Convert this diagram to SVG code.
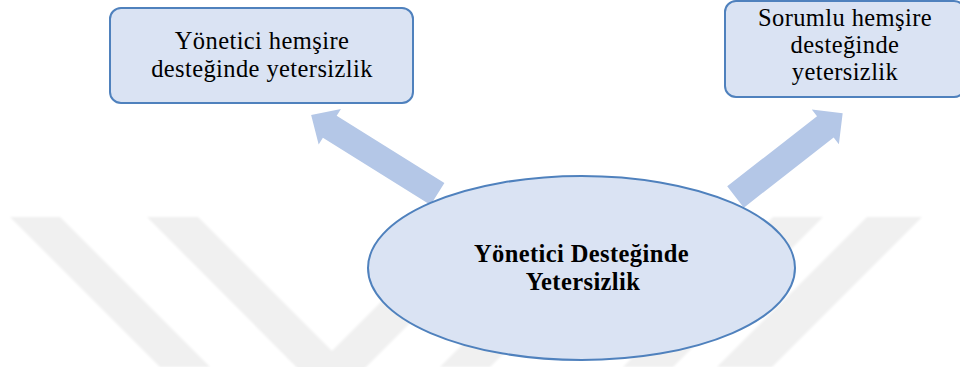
<svg xmlns="http://www.w3.org/2000/svg" width="960" height="367" viewBox="0 0 960 367">
  <defs>
    <filter id="soft" x="-5%" y="-5%" width="110%" height="110%">
      <feGaussianBlur stdDeviation="1.2"/>
    </filter>
    <style>
      .wm { fill: #f0f0f0; }
      .box { fill: #dae3f3; stroke: #4f81bd; stroke-width: 2; }
      .arrow { fill: #b4c7e7; stroke: none; }
      .lbl { font-family: "Liberation Serif", "Times New Roman", serif; font-size: 24.5px; letter-spacing: 0.4px; fill: #000; text-anchor: middle; }
      .bold { font-weight: bold; }
    </style>
  </defs>

  <rect width="960" height="367" fill="#ffffff"/>

  <!-- faint background chevrons -->
  <g id="background-stripes" class="wm" filter="url(#soft)">
    <polygon points="10,217 60,217 210,367 160,367"/>
    <polygon points="147,217 198,217 332,351 466,217 516,217 331,402"/>
    <polygon points="440,367 490,367 640,217 590,217"/>
    <polygon points="773,217 823,217 673,367 623,367"/>
    <polygon points="867,217 922,217 772,367 717,367"/>
  </g>

  <!-- block arrows from the centre ellipse to the two boxes -->
  <g id="connectors">
    <polygon class="arrow" transform="translate(437.5,194) rotate(212)"
             points="0,-13 127,-13 127,-21 149,0 127,21 127,13 0,13"/>
    <polygon class="arrow" transform="translate(735.5,197) rotate(-38)"
             points="0,-13.5 114,-13.5 114,-22 136,0 114,22 114,13.5 0,13.5"/>
  </g>

  <g id="node-left">
    <rect class="box" x="110" y="8" width="303" height="95" rx="11" ry="11"/>
    <text class="lbl" x="262" y="49.4">Yönetici hemşire<tspan x="262" dy="27.2">desteğinde yetersizlik</tspan></text>
  </g>

  <g id="node-right">
    <rect class="box" x="725" y="1" width="240" height="96" rx="11" ry="11"/>
    <text class="lbl" x="845" y="25.8">Sorumlu hemşire<tspan x="845" dy="27.2">desteğinde</tspan><tspan x="845" dy="27.2">yetersizlik</tspan></text>
  </g>

  <g id="node-center">
    <ellipse class="box" cx="581.5" cy="268" rx="213.5" ry="92"/>
    <text class="lbl bold" x="581.5" y="262.4">Yönetici Desteğinde<tspan x="583" dy="27.2">Yetersizlik</tspan></text>
  </g>
</svg>
